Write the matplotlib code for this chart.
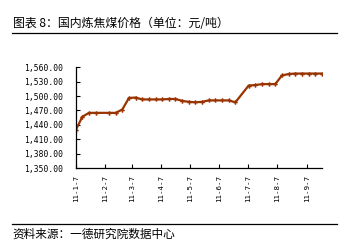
import datetime as dt
import matplotlib.pyplot as plt
from matplotlib.ticker import FuncFormatter

plt.rcParams['font.family'] = ['Noto Sans CJK SC', 'DejaVu Sans']

# weekly prices (yuan/ton), weeks 4 and 25 are missing
week_index = [0, 1, 2, 3, 5, 6, 7, 8, 9, 10, 11, 12, 13, 14, 15, 16, 17, 18,
              19, 20, 21, 22, 23, 24, 26, 27, 28, 29, 30, 31, 32, 33, 34, 35, 36, 37]
price = [1429, 1457, 1465, 1465, 1465, 1465, 1472, 1496, 1497, 1493, 1493, 1493,
         1493, 1494, 1494, 1490, 1488, 1487, 1488, 1491, 1491, 1491, 1491, 1487,
         1522, 1523, 1525, 1525, 1525, 1543, 1546, 1547, 1547, 1547, 1547, 1547]
start = dt.date(2011, 1, 7)
dates = [start + dt.timedelta(weeks=w) for w in week_index]
tick_dates = [dt.date(2011, m, 7) for m in range(1, 10)]
tick_labels = ['11-%d-7' % m for m in range(1, 10)]
y_ticks = list(range(1350, 1561, 30))

fig = plt.figure(figsize=(3.58, 2.43), dpi=100)
ax = fig.add_axes([0.2115, 0.3086, 0.6875, 0.4144])

ax.plot(dates, price, color='#993300', linewidth=1.6, marker='P',
        markersize=3.2, markeredgewidth=0)

ax.set_xlim(dates[0], dates[-1])
ax.set_ylim(1350, 1560)
ax.set_yticks(y_ticks)
ax.yaxis.set_major_formatter(FuncFormatter(lambda v, p: '{:,.2f}'.format(v)))
ax.set_xticks(tick_dates)
ax.set_xticklabels(tick_labels, rotation=90)
ax.tick_params(direction='in', length=3, width=0.8)
ax.tick_params(axis='y', pad=9)
ax.tick_params(axis='x', pad=5)
for lab in ax.get_yticklabels():
    lab.set_fontfamily('DejaVu Sans Mono')
    lab.set_fontsize(5.8)
for lab in ax.get_xticklabels():
    lab.set_fontfamily('DejaVu Sans Mono')
    lab.set_fontsize(5.4)
ax.spines['top'].set_visible(False)
ax.spines['right'].set_visible(False)
for s in ['left', 'bottom']:
    ax.spines[s].set_linewidth(0.9)

# title, rules and source
fig.text(0.036, 0.905, '图表 8：国内炼焦煤价格（单位：元/吨）', fontsize=8.6, va='center')
fig.add_artist(plt.Line2D([0.034, 0.942], [0.864, 0.864], color='black', linewidth=0.9))
fig.add_artist(plt.Line2D([0.034, 0.942], [0.078, 0.078], color='black', linewidth=0.9))
fig.text(0.036, 0.037, '资料来源：一德研究院数据中心', fontsize=8.4, va='center')

fig.savefig('out.png', dpi=100)
